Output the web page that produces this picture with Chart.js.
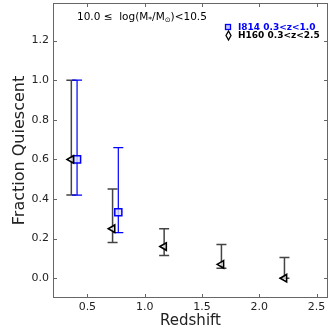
<!DOCTYPE html>
<html>
<head>
<meta charset="utf-8">
<script src="https://cdn.jsdelivr.net/npm/chart.js@4"></script>
<style>
  html, body { margin: 0; padding: 0; background: #fff; }
  #wrap { width: 331px; height: 331px; }
</style>
</head>
<body>
<div id="wrap"><canvas id="grafica"></canvas></div>
<script>
// H160 sample, 0.3<z<2.5
const h160Z = [0.36, 0.72, 1.17, 1.67, 2.22];
const h160Frac = [0.60, 0.25, 0.16, 0.07, 0.00];
const h160Low = [0.42, 0.18, 0.115, 0.05, 0.00];
const h160High = [1.00, 0.45, 0.25, 0.17, 0.105];

// I814 sample, 0.3<z<1.0
const i814Z = [0.41, 0.77];
const i814Frac = [0.60, 0.333];
const i814Low = [0.42, 0.23];
const i814High = [1.00, 0.66];

const xTicks = [0.5, 1.0, 1.5, 2.0, 2.5];
const yTicks = [0.0, 0.2, 0.4, 0.6, 0.8, 1.0, 1.2];

const FONT = 'DejaVu Sans';

// error bars with caps, drawn from the scales
const barrasError = {
  id: 'barrasError',
  beforeDatasetsDraw(chart) {
    const ctx = chart.ctx;
    const xs = chart.scales.x, ys = chart.scales.y;
    chart.data.datasets.forEach(ds => {
      ctx.save();
      ctx.strokeStyle = ds.barColor;
      ctx.lineWidth = ds.barWidth;
      ds.data.forEach((p, i) => {
        const px = xs.getPixelForValue(p.x);
        const top = ys.getPixelForValue(ds.high[i]);
        const bot = ys.getPixelForValue(ds.low[i]);
        ctx.beginPath();
        ctx.moveTo(px, top); ctx.lineTo(px, bot);
        ctx.moveTo(px - 5, top); ctx.lineTo(px + 5, top);
        ctx.moveTo(px - 5, bot); ctx.lineTo(px + 5, bot);
        ctx.stroke();
      });
      ctx.restore();
    });
  }
};

// frame, inward ticks on all sides, annotation and legend
const marco = {
  id: 'marco',
  afterDraw(chart) {
    const ctx = chart.ctx;
    const a = chart.chartArea;
    const xs = chart.scales.x, ys = chart.scales.y;
    ctx.save();
    ctx.strokeStyle = '#666';
    ctx.lineWidth = 1;
    ctx.strokeRect(a.left + 0.5, a.top + 0.5, a.right - a.left - 1, a.bottom - a.top - 1);
    ctx.beginPath();
    xTicks.forEach(v => {
      const px = Math.round(xs.getPixelForValue(v)) + 0.5;
      ctx.moveTo(px, a.bottom); ctx.lineTo(px, a.bottom - 4);
      ctx.moveTo(px, a.top); ctx.lineTo(px, a.top + 4);
    });
    yTicks.forEach(v => {
      const py = Math.round(ys.getPixelForValue(v)) + 0.5;
      ctx.moveTo(a.left, py); ctx.lineTo(a.left + 4, py);
      ctx.moveTo(a.right, py); ctx.lineTo(a.right - 4, py);
    });
    ctx.stroke();

    // mass bin label
    ctx.fillStyle = '#000';
    ctx.textBaseline = 'alphabetic';
    ctx.textAlign = 'left';
    let x = 77;
    const y = 20;
    const parte = (txt, size, dy) => {
      ctx.font = size + 'px "' + FONT + '"';
      ctx.fillText(txt, x, y + dy);
      x += ctx.measureText(txt).width;
    };
    parte('10.0 \u2264  log(M', 10.5, 0);
    parte('*', 7.5, 2);
    parte('/M', 10.5, 0);
    parte('\u2299', 7, 2);
    parte(')<10.5', 10.5, 0);

    // legend
    ctx.lineWidth = 1.3;
    ctx.strokeStyle = '#0000ff';
    ctx.fillStyle = '#c8c8ff';
    ctx.fillRect(225.5, 24.5, 5, 5);
    ctx.strokeRect(225.5, 24.5, 5, 5);
    ctx.strokeStyle = '#000';
    ctx.fillStyle = '#fff';
    ctx.beginPath();
    ctx.moveTo(228.5, 31); ctx.lineTo(231, 35.5); ctx.lineTo(228.5, 40); ctx.lineTo(226, 35.5);
    ctx.closePath();
    ctx.fill(); ctx.stroke();
    ctx.font = 'bold 9px "' + FONT + '"';
    ctx.textBaseline = 'middle';
    ctx.fillStyle = '#0000ff';
    ctx.fillText('I814 0.3<z<1.0', 238, 27.5);
    ctx.fillStyle = '#000';
    ctx.fillText('H160 0.3<z<2.5', 238, 36);
    ctx.restore();
  }
};

new Chart(document.getElementById('grafica'), {
  type: 'scatter',
  data: {
    datasets: [{
      label: 'H160 0.3<z<2.5',
      data: h160Z.map((z, i) => ({ x: z, y: h160Frac[i] })),
      low: h160Low,
      high: h160High,
      barColor: '#444',
      barWidth: 1.5,
      pointStyle: 'triangle',
      rotation: -90,
      pointRadius: 4.3,
      pointHoverRadius: 4.3,
      borderWidth: 1.6,
      borderColor: '#000',
      backgroundColor: 'rgba(255,255,255,0.7)'
    }, {
      label: 'I814 0.3<z<1.0',
      data: i814Z.map((z, i) => ({ x: z, y: i814Frac[i] })),
      low: i814Low,
      high: i814High,
      barColor: '#0000ff',
      barWidth: 1.2,
      pointStyle: 'rect',
      pointRadius: 5,
      pointHoverRadius: 5,
      borderWidth: 1.5,
      borderColor: '#0000ff',
      backgroundColor: 'rgba(220,220,255,0.8)'
    }]
  },
  options: {
    responsive: true,
    maintainAspectRatio: false,
    animation: false,
    layout: { autoPadding: false, padding: { top: 3, right: 3, left: 0, bottom: 0 } },
    plugins: {
      legend: { display: false },
      tooltip: { enabled: false }
    },
    scales: {
      x: {
        type: 'linear',
        min: 0.2,
        max: 2.6,
        afterBuildTicks: s => { s.ticks = xTicks.map(v => ({ value: v })); },
        afterFit: s => { s.height = 33; s.paddingLeft = 0; s.paddingRight = 0; },
        grid: { display: false, drawTicks: false },
        border: { display: false },
        ticks: {
          autoSkip: false,
          maxRotation: 0,
          padding: 3,
          color: '#222',
          font: { family: FONT, size: 11 },
          callback: v => v.toFixed(1)
        },
        title: {
          display: true,
          text: 'Redshift',
          color: '#222',
          font: { family: FONT, size: 15 },
          padding: { top: 0, bottom: 1 }
        }
      },
      y: {
        type: 'linear',
        min: -0.1,
        max: 1.39,
        afterBuildTicks: s => { s.ticks = yTicks.map(v => ({ value: v })); },
        afterFit: s => { s.width = 53; s.paddingTop = 0; s.paddingBottom = 0; },
        grid: { display: false, drawTicks: false },
        border: { display: false },
        ticks: {
          autoSkip: false,
          padding: 4,
          color: '#222',
          font: { family: FONT, size: 11 },
          callback: v => v.toFixed(1)
        },
        title: {
          display: true,
          text: 'Fraction Quiescent',
          color: '#222',
          font: { family: FONT, size: 16 },
          padding: { top: 10, bottom: 0 }
        }
      }
    }
  },
  plugins: [barrasError, marco]
});
</script>
</body>
</html>
